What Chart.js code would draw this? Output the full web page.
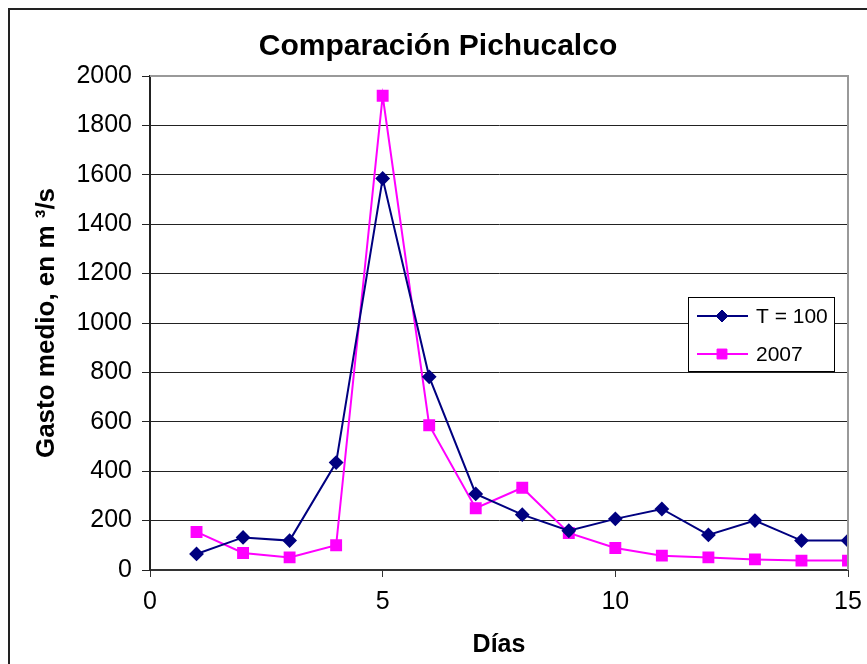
<!DOCTYPE html>
<html>
<head>
<meta charset="utf-8">
<script src="https://cdn.jsdelivr.net/npm/chart.js@4"></script>
<style>
    html, body { margin: 0; padding: 0; background: #fff; }
    #wrap { position: relative; width: 867px; height: 664px; overflow: hidden; }
    #frame { position: absolute; left: 8px; top: 8px; width: 900px; height: 700px;
             border-left: 2px solid #222; border-top: 2px solid #222; }
    canvas { position: absolute; left: 0; top: 0; }
</style>
</head>
<body>
<div id="wrap">
    <div id="frame"></div>
    <canvas id="chart" width="867" height="664"></canvas>
</div>
<script>
const days = [1, 2, 3, 4, 5, 6, 7, 8, 9, 10, 11, 12, 13, 14, 15];
const t100 = [65, 132, 119, 435, 1585, 782, 308, 224, 159, 207, 247, 142, 200, 119, 119];
const y2007 = [154, 69, 51, 100, 1920, 586, 250, 333, 150, 89, 58, 51, 43, 38, 38];
const yTicks = [0, 200, 400, 600, 800, 1000, 1200, 1400, 1600, 1800, 2000];
const xTicks = [0, 5, 10, 15];

const FONT = '"Liberation Sans", Arial, sans-serif';

function toPoints(values) {
    return days.map((d, i) => ({ x: d, y: values[i] }));
}

// borde gris del área de trazado
const plotBorder = {
    id: 'plotBorder',
    afterDraw(chart) {
        const a = chart.chartArea;
        const ctx = chart.ctx;
        ctx.save();
        ctx.strokeStyle = '#999';
        ctx.lineWidth = 2;
        ctx.beginPath();
        ctx.moveTo(a.left, a.top);
        ctx.lineTo(a.right, a.top);
        ctx.lineTo(a.right, a.bottom);
        ctx.stroke();
        ctx.restore();
    }
};

// leyenda dentro del gráfico
const boxLegend = {
    id: 'boxLegend',
    afterDraw(chart) {
        const ctx = chart.ctx;
        const x = 688, y = 297, w = 146, h = 74;
        ctx.save();
        ctx.fillStyle = '#fff';
        ctx.fillRect(x, y, w, h);
        ctx.strokeStyle = '#000';
        ctx.lineWidth = 1;
        ctx.strokeRect(x + 0.5, y + 0.5, w, h);
        chart.data.datasets.forEach((ds, i) => {
            const cy = y + 19 + i * 38;
            ctx.strokeStyle = ds.borderColor;
            ctx.lineWidth = 2;
            ctx.beginPath();
            ctx.moveTo(697, cy);
            ctx.lineTo(748, cy);
            ctx.stroke();
            ctx.fillStyle = ds.pointBackgroundColor;
            ctx.strokeStyle = ds.pointBorderColor;
            ctx.lineWidth = 1;
            Chart.helpers.drawPoint(ctx, {
                pointStyle: ds.pointStyle,
                radius: ds.pointRadius,
                borderWidth: 1
            }, 722, cy);
            ctx.fillStyle = '#000';
            ctx.font = '21px ' + FONT;
            ctx.textBaseline = 'middle';
            ctx.fillText(ds.label, 756, cy + 1);
        });
        ctx.restore();
    }
};

const ctx = document.getElementById('chart').getContext('2d');
new Chart(ctx, {
    type: 'line',
    data: {
        datasets: [{
            label: 'T = 100',
            data: toPoints(t100),
            borderColor: '#000080',
            backgroundColor: '#000080',
            pointBackgroundColor: '#000080',
            pointBorderColor: '#000080',
            pointStyle: 'rectRot',
            pointRadius: 6,
            borderWidth: 2,
            tension: 0
        }, {
            label: '2007',
            data: toPoints(y2007),
            borderColor: '#FF00FF',
            backgroundColor: '#FF00FF',
            pointBackgroundColor: '#FF00FF',
            pointBorderColor: '#FF00FF',
            pointStyle: 'rect',
            pointRadius: 7,
            borderWidth: 2,
            tension: 0
        }]
    },
    options: {
        responsive: false,
        animation: false,
        layout: { padding: { left: 28, right: 19, top: 10, bottom: 0 } },
        plugins: {
            legend: { display: false },
            tooltip: { enabled: false },
            title: {
                display: true,
                text: 'Comparación Pichucalco',
                color: '#000',
                font: { family: FONT, size: 30, weight: 'bold' },
                padding: { top: 19, bottom: 11 }
            }
        },
        scales: {
            x: {
                type: 'linear',
                min: 0,
                max: 15,
                afterBuildTicks(scale) {
                    scale.ticks = xTicks.map(v => ({ value: v }));
                },
                afterFit(scale) {
                    scale.height = 94;
                    scale.paddingRight = 0;
                    scale.paddingLeft = 0;
                },
                grid: { drawOnChartArea: false, drawTicks: true, tickLength: 7, color: '#333' },
                border: { color: '#333', width: 2 },
                ticks: {
                    color: '#000',
                    padding: 10,
                    font: { family: FONT, size: 25 }
                },
                title: {
                    display: true,
                    text: 'Días',
                    color: '#000',
                    font: { family: FONT, size: 25, weight: 'bold' },
                    padding: { top: 0, bottom: 4 }
                }
            },
            y: {
                min: 0,
                max: 2000,
                afterBuildTicks(scale) {
                    scale.ticks = yTicks.map(v => ({ value: v }));
                },
                afterFit(scale) { scale.width = 122; },
                grid: { color: '#222', lineWidth: 1, tickLength: 8 },
                border: { color: '#222', width: 2 },
                ticks: {
                    color: '#000',
                    padding: 10,
                    font: { family: FONT, size: 25 },
                    callback: v => String(v)
                },
                title: {
                    display: true,
                    text: 'Gasto medio, en m ³/s',
                    color: '#000',
                    font: { family: FONT, size: 26, weight: 'bold' },
                    padding: { top: 3, bottom: 0 }
                }
            }
        }
    },
    plugins: [plotBorder, boxLegend]
});
</script>
</body>
</html>
